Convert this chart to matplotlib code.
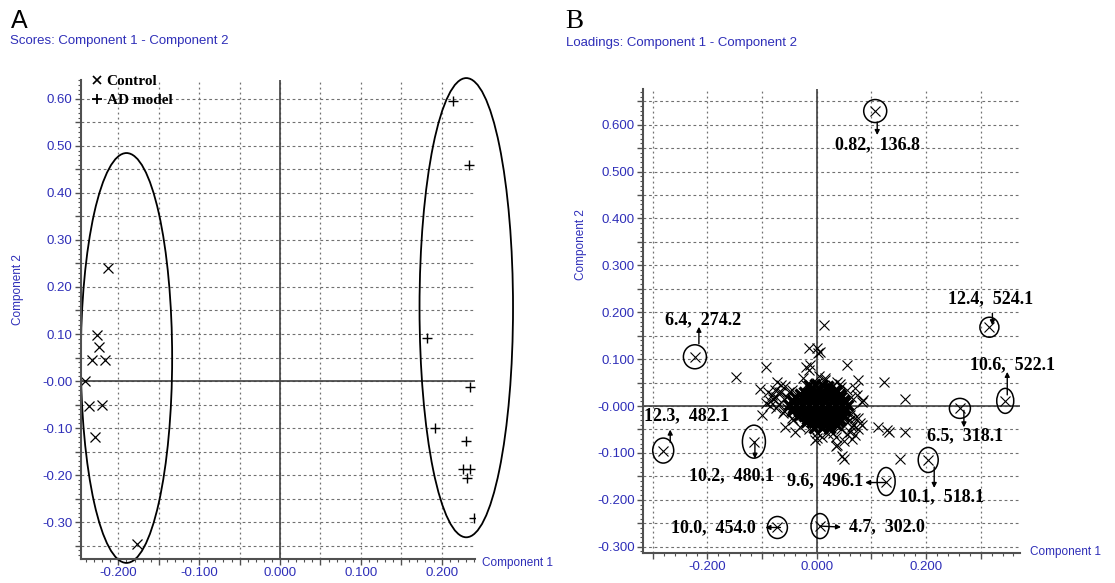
import matplotlib
matplotlib.use("Agg")
import matplotlib.pyplot as plt
from matplotlib.patches import Ellipse
from matplotlib.lines import Line2D
from matplotlib.ticker import MultipleLocator, FuncFormatter

plt.rcParams['font.family'] = ['Liberation Sans', 'DejaVu Sans']

BLUE = '#2e2eb8'
GRID = '#707070'
AXC = '#505050'

# ── Panel A: scores ───────────────────────────────────────────────────────────
control_x = [-0.213, -0.227, -0.224, -0.233, -0.216, -0.2416, -0.236, -0.2206, -0.229, -0.177]
control_y = [0.240, 0.0985, 0.072, 0.044, 0.044, -0.001, -0.054, -0.052, -0.119, -0.347]

ad_x = [0.2135, 0.234, 0.182, 0.235, 0.192, 0.230, 0.227, 0.235, 0.231, 0.240]
ad_y = [0.596, 0.460, 0.092, -0.012, -0.101, -0.128, -0.187, -0.187, -0.206, -0.292]

# confidence ellipses (centre x, centre y, width, height)
ell_control = (-0.190, 0.049, 0.113, 0.872)
ell_ad = (0.2305, 0.156, 0.1157, 0.977)

# ── Panel B: loadings ─────────────────────────────────────────────────────────
# dense cloud around the origin
blob_x = [-0.015, -0.003, 0.009, 0.021,
          -0.010, 0.005, 0.020, 0.035,
          -0.024, -0.012, 0.000, 0.012, 0.024, 0.036,
          -0.030, -0.018, -0.006, 0.006, 0.018, 0.030, 0.042,
          -0.039, -0.027, -0.015, -0.003, 0.009, 0.021, 0.033, 0.045,
          -0.045, -0.033, -0.021, -0.009, 0.003, 0.015, 0.027, 0.039, 0.050,
          -0.044, -0.032, -0.020, -0.008, 0.004, 0.016, 0.028, 0.040, 0.052,
          -0.050, -0.038, -0.026, -0.014, -0.002, 0.010, 0.022, 0.034, 0.046, 0.058,
          -0.044, -0.032, -0.020, -0.008, 0.004, 0.016, 0.028, 0.040, 0.052,
          -0.045, -0.033, -0.021, -0.009, 0.003, 0.015, 0.027, 0.039, 0.051,
          -0.029, -0.017, -0.005, 0.007, 0.019, 0.031, 0.043,
          -0.035, -0.023, -0.011, 0.001, 0.013, 0.025, 0.037, 0.049,
          -0.017, -0.005, 0.007, 0.019, 0.031, 0.043,
          -0.020, -0.008, 0.004, 0.016, 0.028, 0.040,
          0.001, 0.013, 0.025, 0.037,
          -0.005, 0.010, 0.025]
blob_y = [0.044, 0.046, 0.044, 0.042,
          0.036, 0.036, 0.036, 0.034,
          0.030, 0.030, 0.030, 0.030, 0.030, 0.030,
          0.025, 0.025, 0.025, 0.025, 0.025, 0.025, 0.025,
          0.019, 0.019, 0.019, 0.019, 0.019, 0.019, 0.019, 0.019,
          0.013, 0.013, 0.013, 0.013, 0.013, 0.013, 0.013, 0.013, 0.013,
          0.008, 0.008, 0.008, 0.008, 0.008, 0.008, 0.008, 0.008, 0.008,
          0.002, 0.002, 0.002, 0.002, 0.002, 0.002, 0.002, 0.002, 0.002, 0.002,
          -0.004, -0.004, -0.004, -0.004, -0.004, -0.004, -0.004, -0.004, -0.004,
          -0.010, -0.010, -0.010, -0.010, -0.010, -0.010, -0.010, -0.010, -0.010,
          -0.016, -0.016, -0.016, -0.016, -0.016, -0.016, -0.016,
          -0.022, -0.022, -0.022, -0.022, -0.022, -0.022, -0.022, -0.022,
          -0.028, -0.028, -0.028, -0.028, -0.028, -0.028,
          -0.034, -0.034, -0.034, -0.034, -0.034, -0.034,
          -0.040, -0.040, -0.040, -0.040,
          -0.046, -0.046, -0.046]

# looser points on the arms of the cloud
arm_x = [-0.065, -0.060, -0.070, -0.075, -0.055, -0.062, -0.085, -0.050, -0.058,
         -0.090, -0.080, -0.070, -0.065, -0.055, -0.045, -0.050, -0.060, -0.075, -0.085,
         -0.045, -0.030, -0.040,
         0.060, 0.055, 0.065, 0.045, 0.075, 0.062, 0.055, 0.030, 0.045,
         0.065, 0.070, 0.055, 0.075, 0.050, 0.065,
         0.000, -0.015, 0.020, 0.035,
         -0.020, 0.000, 0.015, -0.025, 0.005]
arm_y = [0.030, 0.015, 0.005, 0.020, -0.005, -0.015, 0.010, 0.030, 0.042,
         0.030, 0.015, 0.030, 0.045, 0.020, 0.035, 0.005, -0.010, -0.005, 0.000,
         -0.025, -0.045, -0.055,
         -0.020, -0.035, -0.045, -0.050, -0.025, 0.020, 0.035, 0.045, 0.040,
         -0.010, -0.025, -0.060, -0.050, -0.075, -0.070,
         -0.058, -0.050, -0.060, -0.065,
         0.045, 0.050, 0.055, 0.060, 0.065]

# scattered loadings outside the cloud
scat_x = [0.013, -0.015, 0.001, 0.006, 0.003, -0.093, -0.020, -0.015, -0.012, 0.055,
          0.123, 0.076, 0.015, 0.037, 0.043, -0.104, -0.073, -0.076, -0.082, 0.070,
          0.073, 0.085, -0.092, -0.101, -0.058, -0.043, 0.061, 0.067, 0.082, 0.070,
          0.061, 0.113, 0.128, -0.003, 0.009, 0.037, 0.046, 0.021, 0.030, -0.148,
          0.162, 0.133, 0.162, 0.153, 0.035, 0.082, 0.079, 0.049, 0.000]
scat_y = [0.173, 0.123, 0.123, 0.116, 0.112, 0.083, 0.084, 0.077, 0.087, 0.087,
          0.052, 0.055, 0.059, 0.052, 0.047, 0.036, 0.052, 0.034, 0.023, 0.038,
          0.023, 0.013, 0.006, -0.019, -0.044, -0.030, -0.030, -0.041, -0.041, -0.062,
          -0.055, -0.044, -0.051, -0.072, -0.065, -0.083, -0.107, -0.048, -0.058, 0.061,
          0.014, -0.055, -0.055, -0.112, -0.085, 0.009, -0.037, -0.112, -0.068]

# marked variables (retention time, m/z)
hl_names = ["0.82,  136.8", "6.4,  274.2", "12.3,  482.1", "10.2,  480.1",
            "10.0,  454.0", "4.7,  302.0", "9.6,  496.1", "10.1,  518.1",
            "6.5,  318.1", "10.6,  522.1", "12.4,  524.1"]
hl_x = [0.107, -0.223, -0.281, -0.115, -0.072, 0.006, 0.127, 0.204, 0.262, 0.345, 0.316]
hl_y = [0.629, 0.105, -0.095, -0.076, -0.259, -0.256, -0.161, -0.115, -0.005, 0.011, 0.168]

# layout of each marked variable in pixels: ring size, arrow start/end, label offset
hl_ring = [(23, 23), (23, 24), (21, 25), (23, 33), (20, 22), (18, 25),
           (18, 28), (20, 25), (21, 20), (17, 25), (19, 20)]
hl_arrow = [((2, -11), (2, -24)), ((4, 13), (4, 30)), ((7, 8), (7, 21)),
            ((1, 0), (1, -17)), ((3, 0), (-12, 0)), ((0, 0), (21, -1)),
            ((0, -1), (-21, -1)), ((6, -7), (6, -28)), ((4, -2), (4, -19)),
            ((2, 6), (2, 29)), ((3, 14), (3, 2))]
hl_label = [(2, -34), (8, 37), (23, 35), (-22, -34), (-64, 0), (67, -1),
            (-61, 1), (13, -37), (5, -27), (7, 36), (1, 29)]

W, H = 1115, 583
fig = plt.figure(figsize=(W / 100, H / 100), dpi=100)
axA = fig.add_axes([81 / W, 1 - 559 / H, 394 / W, 479 / H])
axB = fig.add_axes([643 / W, 1 - 553 / H, 377 / W, 464 / H])


def label_fmt(step, fmt, zero):
    def f(v, pos):
        if abs(v / step - round(v / step)) > 1e-6:
            return ''
        if abs(v) < 1e-9:
            return zero
        return fmt.format(v)
    return FuncFormatter(f)


def style(ax, xmaj, xmin, xstep, xfmt, xzero, ymaj, ymin, ystep, yfmt, yzero):
    for s in ['top', 'right']:
        ax.spines[s].set_visible(False)
    for s in ['left', 'bottom']:
        ax.spines[s].set_color(AXC)
        ax.spines[s].set_linewidth(1.5)
    ax.xaxis.set_major_locator(MultipleLocator(xmaj))
    ax.xaxis.set_minor_locator(MultipleLocator(xmin))
    ax.yaxis.set_major_locator(MultipleLocator(ymaj))
    ax.yaxis.set_minor_locator(MultipleLocator(ymin))
    ax.xaxis.set_major_formatter(label_fmt(xstep, xfmt, xzero))
    ax.yaxis.set_major_formatter(label_fmt(ystep, yfmt, yzero))
    ax.tick_params(which='major', length=4, width=1, color=AXC,
                   labelcolor=BLUE, labelsize=9.5, pad=2)
    ax.tick_params(which='minor', length=2, width=0.8, color=AXC)
    ax.xaxis.grid(True, which='major', ls=(0, (1.5, 2.5)), color=GRID, lw=0.9)
    ax.yaxis.grid(True, which='major', ls=(0, (2.5, 2.5)), color=GRID, lw=0.8)
    ax.set_axisbelow(True)
    ax.axhline(0, color='#404040', lw=1.2, zorder=1)
    ax.axvline(0, color='#404040', lw=1.2, zorder=1)


# ── A ─────────────────────────────────────────────────────────────────────────
axA.set_xlim(-0.2463, 0.2413)
axA.set_ylim(-0.3787, 0.6404)
style(axA, 0.05, 0.01, 0.1, '{:.3f}', '0.000', 0.05, 0.01, 0.1, '{:.2f}', '-0.00')

axA.plot(control_x, control_y, 'x', color='black', ms=6.5, mew=0.9, ls='none')
axA.plot(ad_x, ad_y, '+', color='black', ms=7, mew=1.0, ls='none')
for cx, cy, w, h in [ell_control, ell_ad]:
    axA.add_patch(Ellipse((cx, cy), w, h, fill=False, ec='black', lw=1.3, clip_on=False))

handles = [Line2D([], [], marker='x', ls='none', color='black', ms=6, mew=1.2),
           Line2D([], [], marker='+', ls='none', color='black', ms=7, mew=1.3)]
axA.legend(handles, ['Control', 'AD model'], loc='upper left', bbox_to_anchor=(0.007, 1.027),
           frameon=False, handlelength=0.7, handletextpad=0.3, borderpad=0,
           labelspacing=0.35, prop={'family': 'Liberation Serif', 'weight': 'bold', 'size': 11})

# ── B ─────────────────────────────────────────────────────────────────────────
axB.set_xlim(-0.318, 0.372)
axB.set_ylim(-0.3134, 0.676)
style(axB, 0.1, 0.02, 0.2, '{:.3f}', '0.000', 0.05, 0.01, 0.1, '{:.3f}', '-0.000')

# the core overlaps so heavily it reads as solid black
axB.plot(blob_x, blob_y, 'x', color='black', ms=7.5, mew=2.4, ls='none')
axB.plot(arm_x, arm_y, 'x', color='black', ms=7, mew=0.8, ls='none')
axB.plot(scat_x, scat_y, 'x', color='black', ms=7, mew=0.8, ls='none')
axB.plot(hl_x, hl_y, 'x', color='black', ms=7, mew=0.8, ls='none')

# pixel scale of panel B, for rings and arrows
p0 = axB.transData.transform((0, 0))
p1 = axB.transData.transform((1, 1))
sx, sy = p1[0] - p0[0], p1[1] - p0[1]

for name, x, y, (rw, rh), (a0, a1), (lx, ly) in zip(hl_names, hl_x, hl_y, hl_ring, hl_arrow, hl_label):
    axB.add_patch(Ellipse((x, y), rw / sx, rh / sy, fill=False, ec='black', lw=1.1))
    px, py = axB.transData.transform((x, y))
    axB.annotate('', xy=(px + a1[0], py + a1[1]), xytext=(px + a0[0], py + a0[1]),
                 xycoords='figure pixels', textcoords='figure pixels',
                 arrowprops=dict(arrowstyle='-|>', color='black', lw=1.0,
                                 mutation_scale=7, shrinkA=0, shrinkB=0))
    axB.annotate(name, xy=(px + lx, py + ly), xycoords='figure pixels',
                 ha='center', va='center', fontsize=13, fontweight='bold',
                 family='Liberation Serif', color='black')

# ── Titles and axis names ─────────────────────────────────────────────────────
fig.text(11 / W, 1 - 28 / H, 'A', fontsize=18, va='baseline', color='black')
fig.text(10 / W, 1 - 44 / H, 'Scores: Component 1 - Component 2', fontsize=9.5,
         va='baseline', color=BLUE)
fig.text(565 / W, 1 - 28 / H, 'B', fontsize=19.5, va='baseline',
         family='Liberation Serif', color='black')
fig.text(566 / W, 1 - 46 / H, 'Loadings: Component 1 - Component 2', fontsize=9.5,
         va='baseline', color=BLUE)

fig.text(482 / W, 1 - 563 / H, 'Component 1', fontsize=8.5, color=BLUE, va='center')
fig.text(1030 / W, 1 - 552 / H, 'Component 1', fontsize=8.5, color=BLUE, va='center')
fig.text(18 / W, 1 - 290 / H, 'Component 2', fontsize=8.5, color=BLUE,
         rotation=90, ha='center', va='center')
fig.text(581 / W, 1 - 245 / H, 'Component 2', fontsize=8.5, color=BLUE,
         rotation=90, ha='center', va='center')

fig.savefig('out.png', dpi=100)
